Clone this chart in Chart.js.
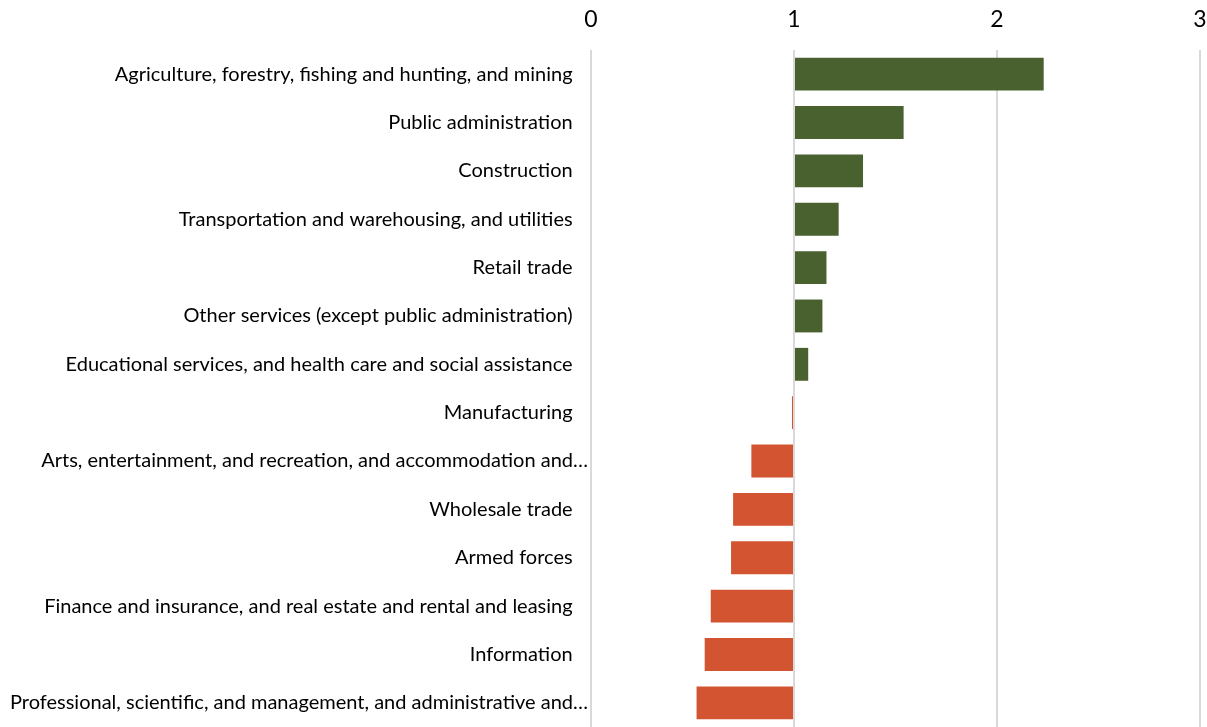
<!DOCTYPE html>
<html>
<head>
<meta charset="utf-8">
<script src="https://cdn.jsdelivr.net/npm/chart.js@4/dist/chart.umd.min.js"></script>
<style>
html,body{margin:0;padding:0;background:#fff;overflow:hidden;}
canvas{display:block;}
</style>
</head>
<body>
<canvas id="c" width="1207" height="727"></canvas>
<script>
// industries, ranked by ratio (bars drawn from 1)
const industries=[
  'Agriculture, forestry, fishing and hunting, and mining',
  'Public administration',
  'Construction',
  'Transportation and warehousing, and utilities',
  'Retail trade',
  'Other services (except public administration)',
  'Educational services, and health care and social assistance',
  'Manufacturing',
  'Arts, entertainment, and recreation, and accommodation and…',
  'Wholesale trade',
  'Armed forces',
  'Finance and insurance, and real estate and rental and leasing',
  'Information',
  'Professional, scientific, and management, and administrative and…'
];
const ratios=[2.23,1.54,1.34,1.22,1.16,1.14,1.07,0.99,0.79,0.70,0.69,0.59,0.56,0.52];
const xTicks=[0,1,2,3];

const GREEN='#48612f', ORANGE='#d35430';

new Chart(document.getElementById('c'),{
  type:'bar',
  data:{
    labels:industries,
    datasets:[{
      data:ratios,
      base:1,
      backgroundColor:ratios.map(v=>v>=1?GREEN:ORANGE),
      borderWidth:0,
      barPercentage:0.68,
      categoryPercentage:1
    }]
  },
  options:{
    indexAxis:'y',
    responsive:false,animation:false,devicePixelRatio:1,
    layout:{padding:{top:0,right:7,bottom:-2,left:0}},
    plugins:{legend:{display:false},tooltip:{enabled:false}},
    scales:{
      x:{
        position:'top',min:0,max:3,
        afterBuildTicks:ax=>{ax.ticks=xTicks.map(v=>({value:v}));},
        afterFit:ax=>{ax.height=50;ax.paddingLeft=0;ax.paddingRight=0;},
        ticks:{color:'#000',font:{family:'Lato',size:23},padding:17},
        grid:{color:'#d9d9d9',lineWidth:2,drawTicks:false},
        border:{display:false}
      },
      y:{
        afterFit:ax=>{ax.width=591;ax.paddingTop=0;ax.paddingBottom=0;},
        ticks:{
          color:'#000',font:{family:'Lato',size:20},padding:3,autoSkip:false,
          // truncated labels sit further right, like the original
          callback:function(v){const l=this.getLabelForValue(v);return l.endsWith('…')?l:l+'   ';}
        },
        grid:{display:false,drawTicks:false},
        border:{display:false}
      }
    }
  }
});
</script>
</body>
</html>
